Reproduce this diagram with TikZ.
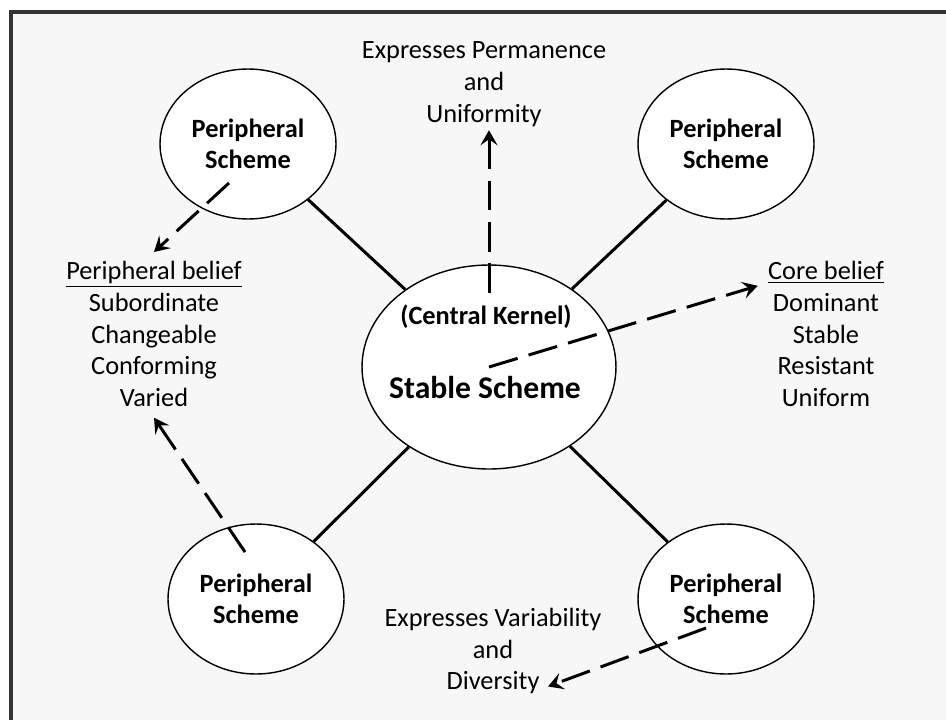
\documentclass[tikz,border=0pt]{standalone}
\usepackage{fontspec}
\setmainfont{Carlito}
\usepackage{tikz}
\usetikzlibrary{positioning, arrows.meta, shapes.geometric}
\definecolor{fondo}{HTML}{F7F7F7}
\definecolor{marco}{HTML}{333333}
\tikzset{linea/.style={line width=1.7pt}}
\tikzset{flecha/.style={line width=1.7pt,dash pattern=on 17pt off 6.5pt,-{Stealth[length=3mm,width=3.4mm,inset=1.2mm]}}}
\tikzset{esquema/.style={draw,ellipse,fill=white,line width=0.8pt,inner sep=0pt}}
\tikzset{periferico/.style={esquema,minimum width=3.52cm,minimum height=3cm,align=center,font=\bfseries\fontsize{15}{17.6}\selectfont}}
\tikzset{texto/.style={draw=none,fill=none,align=center,inner sep=0pt,font=\fontsize{15}{18.1}\selectfont}}

\begin{document}
\begin{tikzpicture}[
                x = 0.02cm, y = -0.02cm
            ]
                \useasboundingbox (0,0) rectangle (946,720);
                \fill[white] (0,0) rectangle (946,720);
                \fill[fondo] (11,12) rectangle (946,720);
                \draw[marco, line width=2.3pt] (11,720) -- (11,12) -- (946,12);

                \node[esquema, minimum width=5.08cm, minimum height=4.08cm](0) at (489,367) {};
                \node[periferico](1) at (248,144) {Peripheral\\Scheme};
                \node[periferico](2) at (726,144) {Peripheral\\Scheme};
                \node[periferico](3) at (256,599) {Peripheral\\Scheme};
                \node[periferico](4) at (726,599) {Peripheral\\Scheme};

                \node[texto, font=\bfseries\fontsize{15}{18}\selectfont](5) at (486,317) {(Central Kernel)};
                \node[texto, font=\bfseries\fontsize{18}{22}\selectfont](6) at (485,388) {Stable Scheme};

                \node[texto](7) at (484,84) {Expresses Permanence\\and\\Uniformity};
                \node[texto](8) at (154,334) {\underline{Peripheral belief}\\Subordinate\\Changeable\\Conforming\\Varied};
                \node[texto](9) at (826,334) {\underline{Core belief}\\Dominant\\Stable\\Resistant\\Uniform};
                \node[texto](10) at (493,651) {Expresses Variability\\and\\Diversity};

                \draw[linea] (1) -- (0);
                \draw[linea] (2) -- (0);
                \draw[linea] (3) -- (0);
                \draw[linea] (4) -- (0);

                \draw[flecha] ([shift={(0,-74)}]0.center) -- ([yshift=-2pt]7.south -| 0.center);
                \draw[flecha] (0.center) -- ([shift={(-10,25)}]9.north west);
                \draw[flecha] ([shift={(-19,39)}]1.center) -- ([yshift=5pt]8.north);
                \draw[flecha] ([shift={(-11,-47)}]3.center) -- ([yshift=-6pt]8.south);
                \draw[flecha] ([shift={(-20,29)}]4.center) -- ([shift={(55,-8)}]10.south);
            \end{tikzpicture}
\end{document}
